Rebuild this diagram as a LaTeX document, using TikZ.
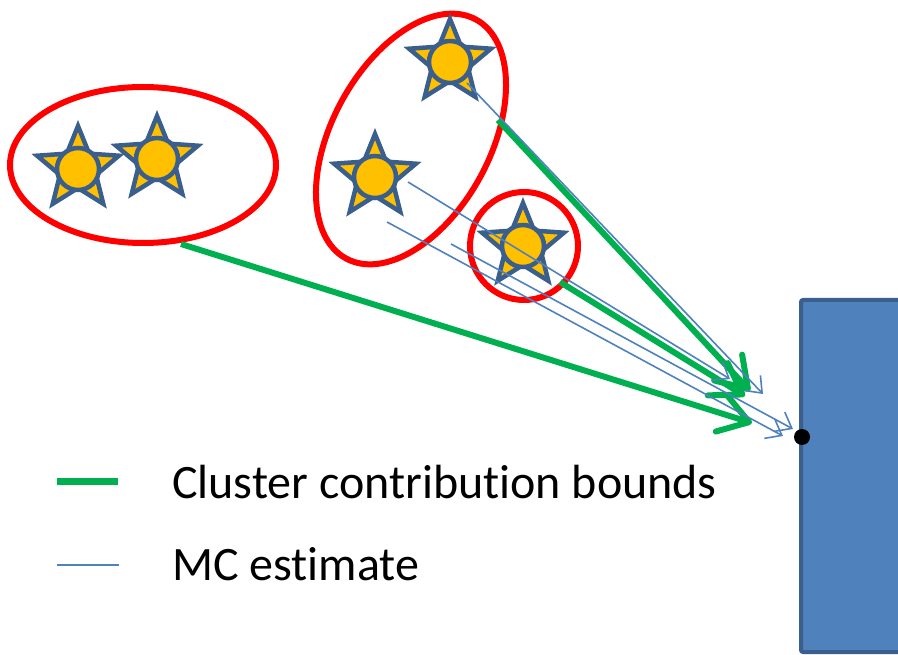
\documentclass[tikz,border=0pt]{standalone}
\usepackage{fontspec}
\setmainfont{Carlito}[Ligatures=NoCommon]
\usetikzlibrary{arrows.meta}
\definecolor{clred}{HTML}{FF0000}
\definecolor{bndgreen}{HTML}{00B050}
\definecolor{mcblue}{HTML}{4F81BD}
\definecolor{starblue}{HTML}{3B5F8C}
\definecolor{sunyellow}{HTML}{FFC000}
\definecolor{wallblue}{HTML}{4F81BD}
\definecolor{walledge}{HTML}{3B5F8C}
\begin{document}
\begin{tikzpicture}[x=1pt, y=-1pt,
        cluster/.style={draw=clred, line width=6pt},
        bound/.style={draw=bndgreen, line width=6pt, -{Straight Barb[length=29pt, width=38pt, line join=round, line cap=round]}},
        mc/.style={draw=mcblue, line width=1.6pt, -{Straight Barb[length=14pt, width=22pt]}},
        legend/.style={anchor=base west, inner sep=0pt, font=\fontsize{48}{58}\selectfont},
        sunstar/.pic={
            \draw[starblue, fill=sunyellow, line width=4.5pt, line join=miter]
                (270:43) \foreach \k in {0,...,4} {-- (270+72*\k:43) -- (306+72*\k:19)} -- cycle;
            \draw[starblue, fill=sunyellow, line width=4.5pt] (0,0) circle (21);
        }
    ]
    \useasboundingbox (0,0) rectangle (898,655);

    % Receiver surface and shading point
    \draw[fill=wallblue, draw=walledge, line width=4pt, rounded corners=2pt] (801,300) rectangle (930,652);
    \coordinate (px) at (802,437);

    % Clusters
    \draw[cluster] (143,165) ellipse [x radius=133, y radius=78];
    \draw[cluster, rotate around={61.5:(411,139)}] (411,139) ellipse [x radius=136, y radius=79];
    \draw[cluster] (524,246) circle (54);

    % Lights
    \pic at (78,169) {sunstar};
    \pic at (157,159) {sunstar};
    \pic at (450,62) {sunstar};
    \pic at (375,177) {sunstar};
    \pic at (523,246) {sunstar};

    % Cluster contribution bounds
    \coordinate (gA) at (181,244);
    \coordinate (gAtip) at (752,423);
    \coordinate (gB) at (498,120);
    \coordinate (gBtip) at (750,391);
    \coordinate (gC) at (560,282);
    \coordinate (gCtip) at (745,396);
    \draw[bound] (gA) -- (gAtip);
    \draw[bound] (gB) -- (gBtip);
    \draw[bound] (gC) -- (gCtip);

    % MC estimate
    \coordinate (mC) at (467,83);
    \coordinate (mCtip) at (763,394);
    \coordinate (mD) at (408,182);
    \coordinate (mDtip) at (730,379);
    \coordinate (mDb) at (387,222);
    \coordinate (mDbtip) at (783,436);
    \coordinate (mE) at (451,244);
    \coordinate (mEtip) at (793,429);
    \draw[mc] (mC) -- (mCtip);
    \draw[mc] (mD) -- (mDtip);
    \draw[mc] (mDb) -- (mDbtip);
    \draw[mc] (mE) -- (mEtip);

    \fill[black] (px) circle (8);

    % Legend
    \coordinate (lgA) at (57,481);
    \coordinate (lgAe) at (118,481);
    \coordinate (lgB) at (57,565);
    \coordinate (lgBe) at (119,565);
    \draw[draw=bndgreen, line width=7pt] (lgA) -- (lgAe);
    \draw[draw=mcblue, line width=2pt] (lgB) -- (lgBe);
    \node[legend] (lgbound) at (172,498) {Cluster contribution bounds};
    \node[legend] (lgmc) at (172,580) {MC estimate};
\end{tikzpicture}
\end{document}
